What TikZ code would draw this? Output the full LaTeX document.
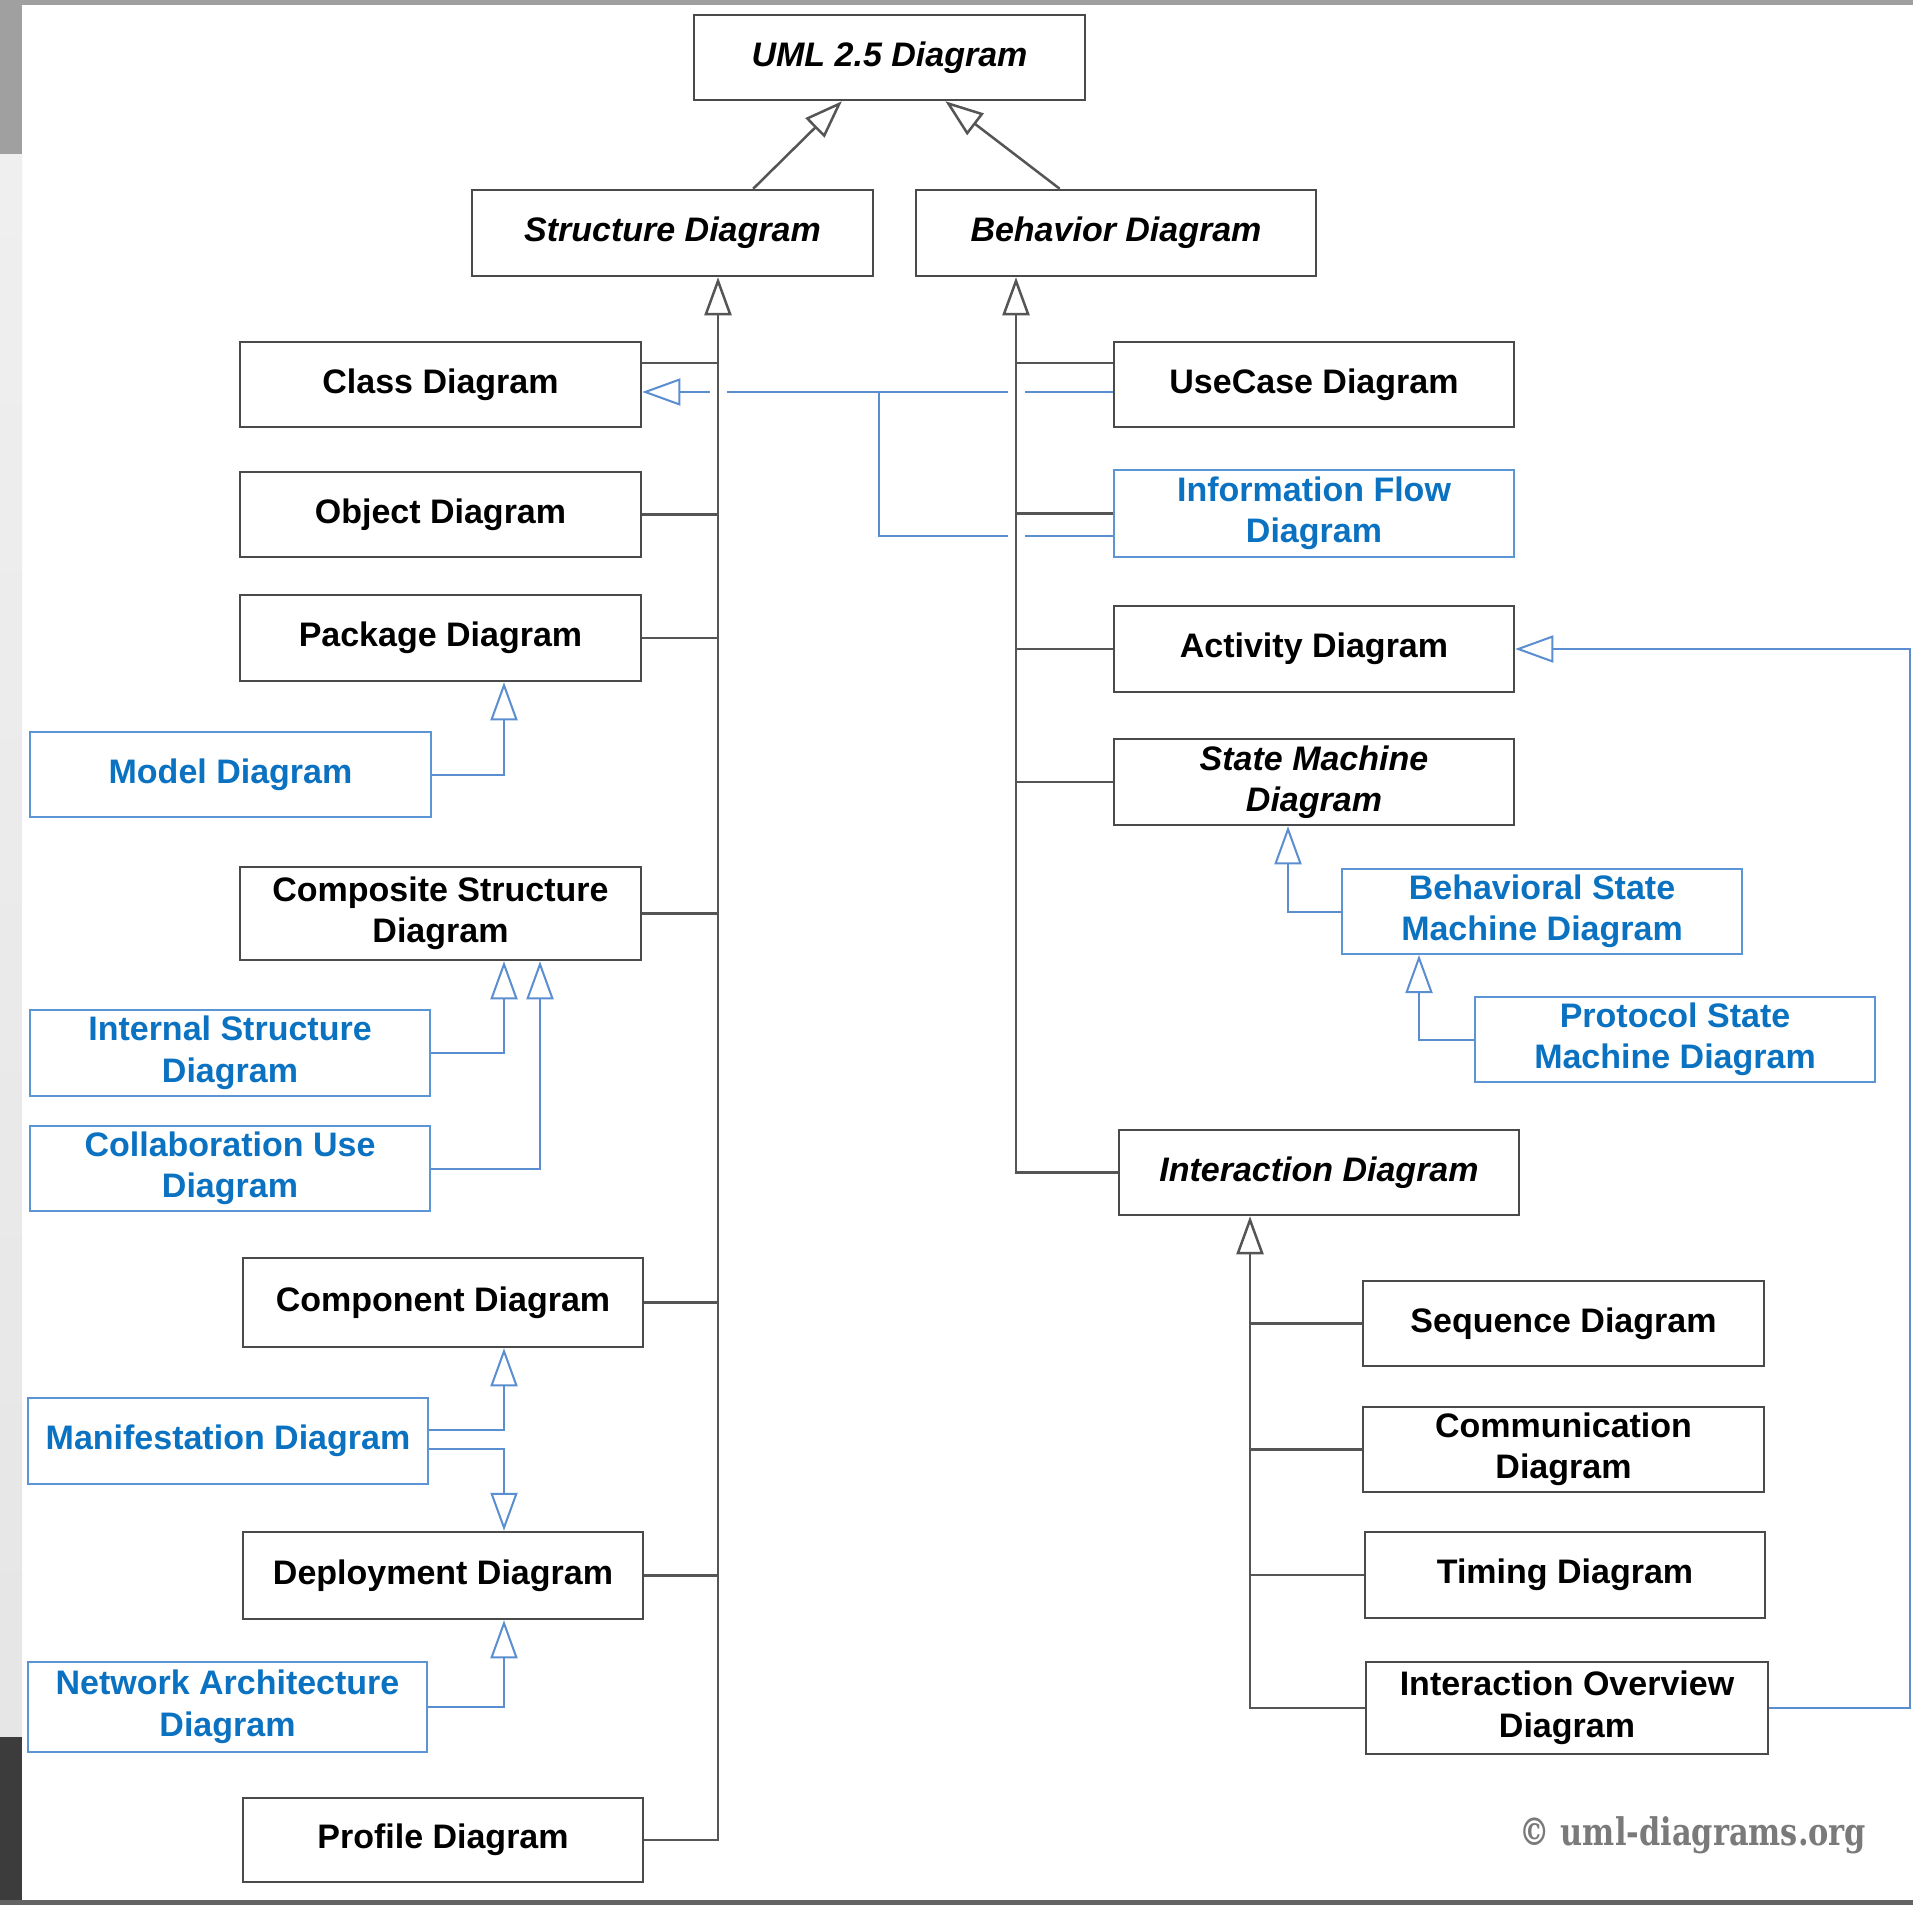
\documentclass[tikz,border=0pt]{standalone}
\usepackage{fontspec}
\setmainfont{Liberation Sans}
\newfontfamily\copyfont{DejaVu Serif}
\usetikzlibrary{arrows.meta,calc}
\definecolor{boxgrey}{HTML}{4A4A4A}
\definecolor{linegrey}{HTML}{555555}
\definecolor{boxblue}{HTML}{5B95D5}
\definecolor{lineblue}{HTML}{5A8ED0}
\definecolor{txtblue}{HTML}{0B72C2}
\definecolor{stripmid}{HTML}{A0A0A0}
\definecolor{striplight}{HTML}{EFEFEF}
\definecolor{stripdark}{HTML}{3C3C3C}
\definecolor{copygrey}{HTML}{7A7A7A}
\begin{document}
\begin{tikzpicture}[x=1pt,y=-1pt,
  base/.style={rectangle, draw=boxgrey, line width=2.5pt, fill=white, align=center, inner sep=0pt,
    font=\fontsize{34}{41.5}\selectfont\bfseries, text=black},
  absbox/.style={base, font=\fontsize{34}{41.5}\selectfont\bfseries\itshape},
  bluebox/.style={base, draw=boxblue, line width=2pt, text=txtblue},
  gen/.style={draw=linegrey, line width=2.5pt, -{Triangle[open, length=38pt, width=27pt]}},
  bgen/.style={draw=lineblue, line width=2pt, -{Triangle[open, length=38pt, width=27pt]}},
  ln/.style={draw=linegrey, line width=2.5pt},
  bln/.style={draw=lineblue, line width=2pt},
  gap/.style={fill=white, draw=none}
]
\useasboundingbox (0,0) rectangle (1913,1905);
\fill[white] (0,0) rectangle (1913,1905);
% frame remnants
\fill[stripmid] (0,0) rectangle (1913,5);
\fill[stripmid] (0,0) rectangle (22,155);
\shade[top color=striplight, bottom color=white!90!black] (0,155) rectangle (22,1737);
\fill[stripdark] (0,1737) rectangle (22,1905);
\fill[stripdark!80] (0,1900) rectangle (1913,1905);

% ---------- nodes ----------
\node[absbox, minimum width=391pt, minimum height=85pt] (uml) at (889.5,57.5) {UML 2.5 Diagram};
\node[absbox, minimum width=401pt, minimum height=86pt] (sd) at (672.5,233) {Structure Diagram};
\node[absbox, minimum width=400pt, minimum height=86pt] (bd) at (1116,233) {Behavior Diagram};

\node[base, minimum width=401pt, minimum height=85pt] (cls) at (440.5,384.5) {Class Diagram};
\node[base, minimum width=401pt, minimum height=85pt] (obj) at (440.5,514.5) {Object Diagram};
\node[base, minimum width=401pt, minimum height=86pt] (pkg) at (440.5,638) {Package Diagram};
\node[bluebox, minimum width=401pt, minimum height=85pt] (mod) at (230.5,774.5) {Model Diagram};
\node[base, minimum width=401pt, minimum height=93pt] (cmp) at (440.5,913.5) {Composite Structure\\Diagram};
\node[bluebox, minimum width=400pt, minimum height=86pt] (int) at (230,1053) {Internal Structure\\Diagram};
\node[bluebox, minimum width=400pt, minimum height=85pt] (col) at (230,1168.5) {Collaboration Use\\Diagram};
\node[base, minimum width=400pt, minimum height=89pt] (com) at (443,1302.5) {Component Diagram};
\node[bluebox, minimum width=400pt, minimum height=86pt] (man) at (228,1441) {Manifestation Diagram};
\node[base, minimum width=400pt, minimum height=87pt] (dep) at (443,1575.5) {Deployment Diagram};
\node[bluebox, minimum width=399pt, minimum height=90pt] (net) at (227.5,1707) {Network Architecture\\Diagram};
\node[base, minimum width=400pt, minimum height=84pt] (prof) at (443,1840) {Profile Diagram};

\node[base, minimum width=400pt, minimum height=85pt] (uc) at (1314,384.5) {UseCase Diagram};
\node[bluebox, minimum width=400pt, minimum height=87pt] (inf) at (1314,513.5) {Information Flow\\Diagram};
\node[base, minimum width=400pt, minimum height=86pt] (act) at (1314,649) {Activity Diagram};
\node[absbox, minimum width=400pt, minimum height=86pt] (sm) at (1314,782) {State Machine\\Diagram};
\node[bluebox, minimum width=400pt, minimum height=85pt] (bsm) at (1542,911.5) {Behavioral State\\Machine Diagram};
\node[bluebox, minimum width=400pt, minimum height=85pt] (psm) at (1675,1039.5) {Protocol State\\Machine Diagram};
\node[absbox, minimum width=400pt, minimum height=85pt] (ia) at (1319,1172.5) {Interaction Diagram};
\node[base, minimum width=401pt, minimum height=85pt] (seq) at (1563.5,1323.5) {Sequence Diagram};
\node[base, minimum width=401pt, minimum height=85pt] (comm) at (1563.5,1449.5) {Communication\\Diagram};
\node[base, minimum width=400pt, minimum height=86pt] (tim) at (1565,1575) {Timing Diagram};
\node[base, minimum width=402pt, minimum height=92pt] (iod) at (1567,1708) {Interaction Overview\\Diagram};

\node[anchor=base, text=copygrey, inner sep=0pt] (copy) at (1693,1845)
  {\scalebox{0.8}[1]{\copyfont\bfseries\fontsize{38}{40}\selectfont \textcopyright\ uml-diagrams.org}};

% ---------- helper coordinates ----------
\coordinate (st) at ($(sd.south)+(45.5,0)$);
\coordinate (bt) at ($(bd.south)+(-100,0)$);
\coordinate (it) at ($(ia.south)+(-69,0)$);
\coordinate (rx) at (1910,0);
\coordinate (clsb) at ($(cls.east)+(0,7.5)$);
\coordinate (ucb) at ($(uc.west)+(0,7.5)$);
\coordinate (infb) at ($(inf.west)+(0,22.5)$);
\coordinate (j1) at (879,392);
\coordinate (clsj) at ($(cls.east)+(0,-21.5)$);
\coordinate (ucj) at ($(uc.west)+(0,-21.5)$);
\coordinate (manu) at ($(man.east)+(0,-11)$);
\coordinate (mand) at ($(man.east)+(0,8)$);

% ---------- blue relations ----------
\draw[bgen] (ucb) -- (clsb);
\draw[bln] (infb) -| (j1);
\fill[gap] ($(st |- clsb)+(-8.5,-10)$) rectangle ++(17,20);
\fill[gap] ($(bt |- clsb)+(-8.5,-10)$) rectangle ++(17,20);
\fill[gap] ($(bt |- infb)+(-8.5,-10)$) rectangle ++(17,20);

\draw[bgen] (mod.east) -| ($(pkg.south)+(63.5,0)$);
\draw[bgen] (int.east) -| ($(cmp.south)+(63.5,0)$);
\draw[bgen] (col.east) -| ($(cmp.south)+(99.5,0)$);
\draw[bgen] (manu) -| ($(com.south)+(61,0)$);
\draw[bgen] (mand) -| ($(dep.north)+(61,0)$);
\draw[bgen] (net.east) -| ($(dep.south)+(61,0)$);

\draw[bgen] (bsm.west) -| ($(sm.south)+(-26,0)$);
\draw[bgen] (psm.west) -| ($(bsm.south)+(-123,0)$);
\draw[bgen] (iod.east) -- (iod.east -| rx) -- (act.east -| rx) -- (act.east);

% ---------- top level ----------
\draw[gen] ($(sd.north west)!0.7!(sd.north east)$) -- ($(uml.south west)!0.379!(uml.south east)$);
\draw[gen] ($(bd.north west)!0.36!(bd.north east)$) -- ($(uml.south west)!0.642!(uml.south east)$);

% ---------- structure trunk ----------
\draw[gen] (prof.east) -| (st);
\draw[ln] (clsj) -- (clsj -| st);
\draw[ln] (obj.east) -- (obj.east -| st);
\draw[ln] (pkg.east) -- (pkg.east -| st);
\draw[ln] (cmp.east) -- (cmp.east -| st);
\draw[ln] (com.east) -- (com.east -| st);
\draw[ln] (dep.east) -- (dep.east -| st);

% ---------- behavior trunk ----------
\draw[gen] (ia.west) -| (bt);
\draw[ln] (ucj) -- (ucj -| bt);
\draw[ln] (inf.west) -- (inf.west -| bt);
\draw[ln] (act.west) -- (act.west -| bt);
\draw[ln] (sm.west) -- (sm.west -| bt);

% ---------- interaction trunk ----------
\draw[gen] (iod.west) -| (it);
\draw[ln] (seq.west) -- (seq.west -| it);
\draw[ln] (comm.west) -- (comm.west -| it);
\draw[ln] (tim.west) -- (tim.west -| it);
\end{tikzpicture}
\end{document}
